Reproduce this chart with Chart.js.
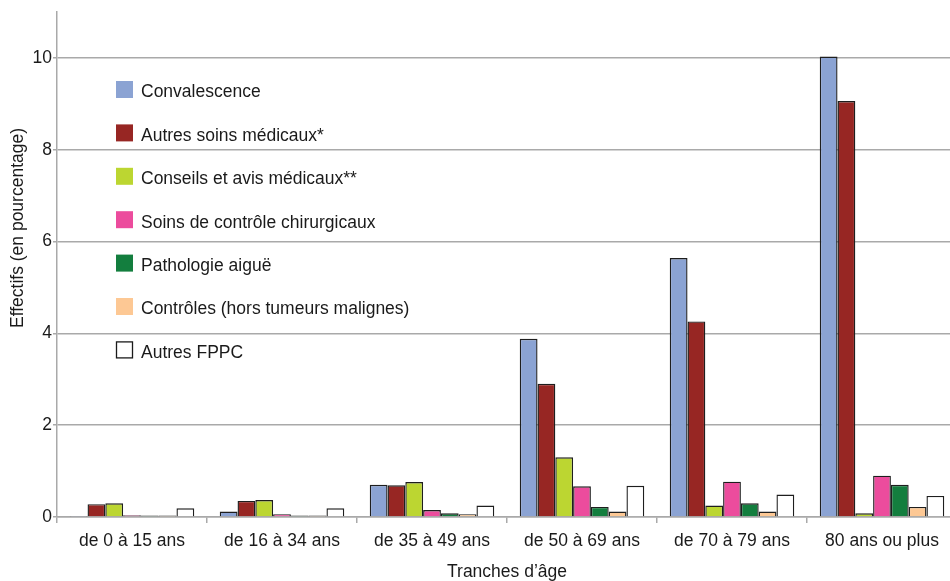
<!DOCTYPE html>
<html>
<head>
<meta charset="utf-8">
<script src="https://cdn.jsdelivr.net/npm/chart.js@4"></script>
<style>
  body { margin: 0; background: #fff; overflow: hidden; }
  #wrap { width: 957px; height: 581px; }
</style>
</head>
<body>
<div id="wrap"><canvas id="tranches"></canvas></div>
<script>
// categories
var tranches = ['de 0 à 15 ans', 'de 16 à 34 ans', 'de 35 à 49 ans', 'de 50 à 69 ans', 'de 70 à 79 ans', '80 ans ou plus'];

// series (en pourcentage)
var convalescence = [0.01, 0.12, 0.70, 3.88, 5.64, 10.03];
var autres_soins = [0.28, 0.35, 0.69, 2.90, 4.26, 9.06];
var conseils = [0.30, 0.37, 0.76, 1.30, 0.25, 0.08];
var soins_controle = [0.04, 0.06, 0.15, 0.67, 0.77, 0.90];
var pathologie = [0.03, 0.03, 0.08, 0.22, 0.30, 0.70];
var controles = [0.03, 0.03, 0.06, 0.12, 0.12, 0.22];
var autres_fppc = [0.19, 0.19, 0.25, 0.68, 0.49, 0.46];

var y_ticks = [0, 2, 4, 6, 8, 10];

var police = "'Liberation Sans', Arial, sans-serif";
var gris = '#a9a9a9';

function serie(label, data, couleur) {
  return {
    label: label,
    data: data,
    backgroundColor: couleur,
    borderColor: '#1e1e1e',
    borderWidth: 1.4,
    borderSkipped: 'bottom',
    categoryPercentage: 0.83,
    barPercentage: 1.0
  };
}

// legende dessinee dans la zone du graphique
var legendeInterne = {
  id: 'legendeInterne',
  afterDraw: function (chart) {
    var ctx = chart.ctx;
    ctx.save();
    ctx.font = '17.5px ' + police;
    ctx.textBaseline = 'middle';
    ctx.fillStyle = '#1a1a1a';
    chart.data.datasets.forEach(function (ds, i) {
      var y = 89.5 + i * 43.4;
      ctx.fillStyle = ds.backgroundColor;
      ctx.fillRect(116, y - 8.5, 17, 17);
      if (ds.backgroundColor === '#ffffff') {
        ctx.strokeStyle = '#1a1a1a';
        ctx.lineWidth = 1.3;
        ctx.strokeRect(116.5, y - 8, 16, 16);
      }
      ctx.fillStyle = '#1a1a1a';
      ctx.fillText(ds.label, 141, y + 3);
    });
    // titre axe y
    ctx.translate(18, 228);
    ctx.rotate(-Math.PI / 2);
    ctx.textAlign = 'center';
    ctx.fillText('Effectifs (en pourcentage)', 0, 0);
    ctx.restore();
  }
};

var chart = new Chart(document.getElementById('tranches'), {
  type: 'bar',
  data: {
    labels: tranches,
    datasets: [
      serie('Convalescence', convalescence, '#8ba3d3'),
      serie('Autres soins médicaux*', autres_soins, '#972623'),
      serie('Conseils et avis médicaux**', conseils, '#bcd631'),
      serie('Soins de contrôle chirurgicaux', soins_controle, '#ec4c9d'),
      serie('Pathologie aiguë', pathologie, '#137e3e'),
      serie('Contrôles (hors tumeurs malignes)', controles, '#fdc894'),
      serie('Autres FPPC', autres_fppc, '#ffffff')
    ]
  },
  options: {
    responsive: true,
    maintainAspectRatio: false,
    animation: false,
    layout: { padding: { top: 12, left: 0, right: 0, bottom: 0 } },
    plugins: {
      legend: { display: false },
      tooltip: { enabled: false }
    },
    scales: {
      x: {
        grid: { display: true, drawOnChartArea: false, offset: true, tickLength: 6, color: gris, lineWidth: 1.5 },
        border: { color: gris, width: 1.5 },
        ticks: { color: '#1a1a1a', font: { family: police, size: 17.5 }, padding: 8, maxRotation: 0 },
        title: { display: true, text: 'Tranches d\u2019âge', color: '#1a1a1a', font: { family: police, size: 17.5, lineHeight: 1.0 }, padding: 0 },
        afterFit: function (scale) { scale.height = 64; }
      },
      y: {
        min: 0,
        max: 11,
        afterBuildTicks: function (scale) {
          scale.ticks = y_ticks.map(function (v) { return { value: v }; });
        },
        grid: { color: gris, lineWidth: 1.5, tickLength: 4 },
        border: { color: gris, width: 1.5 },
        ticks: { color: '#1a1a1a', font: { family: police, size: 17.5 }, padding: 1 },
        afterFit: function (scale) { scale.width = 57; }
      }
    }
  },
  plugins: [legendeInterne]
});
</script>
</body>
</html>
